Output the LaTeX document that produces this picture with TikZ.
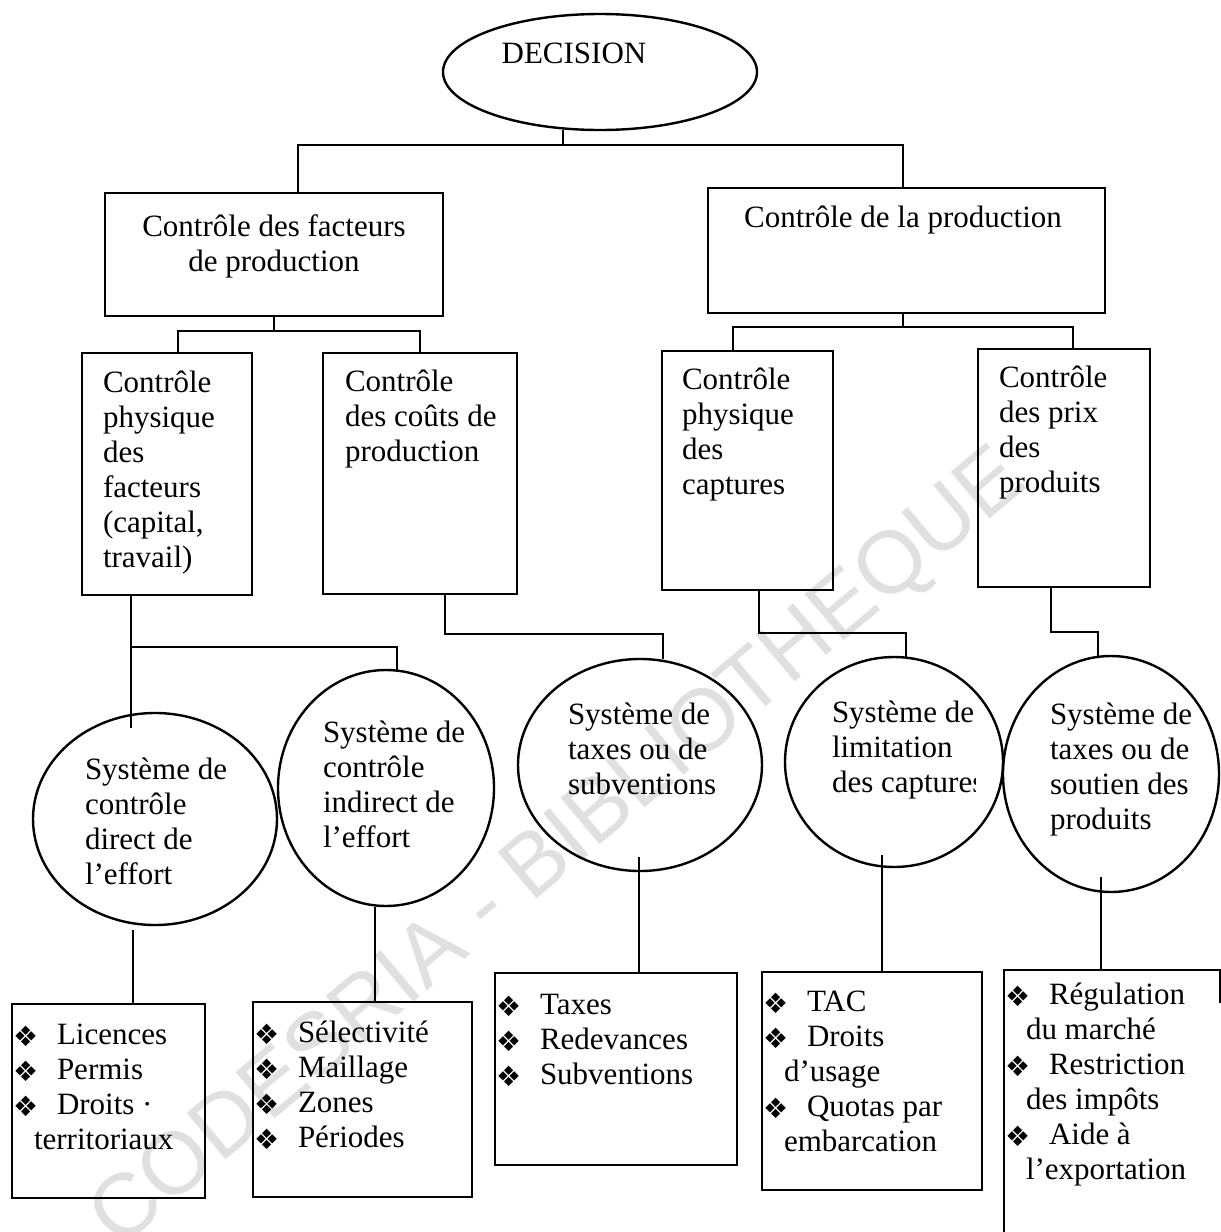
\documentclass[tikz,border=0pt]{standalone}
\usepackage{fontspec}
\setmainfont{Liberation Serif}
\newfontfamily\wmfont{Liberation Sans}
\newfontfamily\symfont{DejaVu Sans}
\usetikzlibrary{shapes.geometric}
\newcommand\tl[1]{\begin{tabular}[t]{@{}l@{}}#1\end{tabular}}
\newcommand\tc[1]{\begin{tabular}[t]{@{}c@{}}#1\end{tabular}}
\newcommand\bul{\makebox[22pt][l]{\raisebox{-1pt}{\symfont\fontsize{14}{14}\selectfont ❖}}}
\newcommand\cnt{\hspace*{10.5pt}}
\begin{document}
\begin{tikzpicture}[x=0.5pt,y=-0.5pt,line width=1.2pt,
  rbox/.style 2 args={draw,rectangle,inner sep=0pt,outer sep=0pt,minimum width=#1*0.5pt,minimum height=#2*0.5pt,anchor=north west},
  oval/.style 2 args={draw,ellipse,inner sep=0pt,outer sep=0pt,minimum width=#1*1pt,minimum height=#2*1pt},
  txt/.style={inner sep=0pt,outer sep=0pt,anchor=base west,font=\fontsize{15.5}{17.5}\selectfont},
  ctxt/.style={txt,anchor=base},
  wire/.style={line width=1.2pt}]
\fill[white] (0,0) rectangle (1221,1232);
\useasboundingbox (0,0) rectangle (1221,1232);
% watermark
\node[rotate=40,text=black!12,font=\wmfont\fontsize{44}{44}\selectfont,inner sep=0pt] (wm) at (560,850) {CODESRIA - BIBLIOTHEQUE};
% top
\node[oval={157}{58}] (dec) at (600,72) {};
\node[ctxt] (tdec) at (574,63) {DECISION};
\node[rbox={338}{123}] (b1) at (105,193) {};
\node[rbox={397}{125}] (b2) at (708,188) {};
\node[ctxt] (t1) at (274,236) {\tc{Contrôle des facteurs\\de production}};
\node[ctxt] (t2) at (903,227) {Contrôle de la production};
% level 2 boxes
\node[rbox={170}{242}] (b3) at (82,353) {};
\node[rbox={194}{241}] (b4) at (323,353) {};
\node[rbox={171}{239}] (b5) at (662,351) {};
\node[rbox={172}{238}] (b6) at (978,349) {};
\node[txt] (t3) at (103,392) {\tl{Contrôle\\physique\\des\\facteurs\\(capital,\\travail)}};
\node[txt] (t4) at (345,391) {\tl{Contrôle\\des coûts de\\production}};
\node[txt] (t5) at (682,389) {\tl{Contrôle\\physique\\des\\captures}};
\node[txt] (t6) at (999,387) {\tl{Contrôle\\des prix\\des\\produits}};
% circles
\node[oval={122}{106}] (c1) at (155,819) {};
\node[oval={108}{118}] (c2) at (386,788) {};
\node[oval={122}{106}] (c3) at (640,765) {};
\node[oval={109}{105}] (c4) at (894,762) {};
\node[oval={108}{118}] (c5) at (1111,774) {};
\node[txt] (tc1) at (85,779) {\tl{Système de\\contrôle\\direct de\\l’effort}};
\node[txt] (tc2) at (323,742) {\tl{Système de\\contrôle\\indirect de\\l’effort}};
\node[txt] (tc3) at (568,724) {\tl{Système de\\taxes ou de\\subventions}};
\begin{scope}
\clip (780,640) rectangle (975,880);
\node[txt] (tc4) at (832,722) {\tl{Système de\\limitation\\des captures}};
\end{scope}
\node[txt] (tc5) at (1050,724) {\tl{Système de\\taxes ou de\\soutien des\\produits}};
% bottom boxes
\node[rbox={193}{194}] (L1) at (12,1004) {};
\node[rbox={219}{195}] (L2) at (253,1002) {};
\node[rbox={242}{192}] (L3) at (495,973) {};
\node[rbox={220}{218}] (L4) at (762,972) {};
\node[rbox={216}{262},draw=none] (L5) at (1004,970) {};
\draw (L5.south west) -- (L5.north west) -- (L5.north east) -- ++(0,33);
\node[txt] (tL1) at (13,1044) {\tl{\bul Licences\\\bul Permis\\\bul Droits ·\\\cnt territoriaux}};
\node[txt] (tL2) at (254,1042) {\tl{\bul Sélectivité\\\bul Maillage\\\bul Zones\\\bul Périodes}};
\node[txt] (tL3) at (496,1014) {\tl{\bul Taxes\\\bul Redevances\\\bul Subventions}};
\node[txt] (tL4) at (763,1011) {\tl{\bul TAC\\\bul Droits\\\cnt d’usage\\\bul Quotas par\\\cnt embarcation}};
\node[txt] (tL5) at (1005,1004) {\tl{\bul Régulation\\\cnt du marché\\\bul Restriction\\\cnt des impôts\\\bul Aide à\\\cnt l’exportation}};
% junction coordinates
\coordinate (j0) at (563,145);
\coordinate (j0l) at (298,145);
\coordinate (j0r) at (903,145);
\coordinate (j1) at (274,331);
\coordinate (j1l) at (178,331);
\coordinate (j1r) at (420,331);
\coordinate (j2) at (903,327);
\coordinate (j2l) at (733,327);
\coordinate (j2r) at (1073,327);
\coordinate (j3) at (131,647);
\coordinate (j3r) at (397,647);
\coordinate (e3) at (131,728);
\coordinate (j4) at (445,634);
\coordinate (j4r) at (663,634);
\coordinate (j5) at (759,633);
\coordinate (j5r) at (906,633);
\coordinate (j6) at (1051,632);
\coordinate (j6r) at (1098,632);
\coordinate (s1) at (133,930);
\coordinate (s2) at (375,907);
\coordinate (s3) at (639,857);
\coordinate (s4) at (882,855);
\coordinate (s5) at (1101,877);
% connectors
\draw[wire] (j0 |- dec.south) -- (j0);
\draw[wire] (j0l |- b1.north) -- (j0l) -- (j0r) -- (j0r |- b2.north);
\draw[wire] (j1 |- b1.south) -- (j1);
\draw[wire] (j1l |- b3.north) -- (j1l) -- (j1r) -- (j1r |- b4.north);
\draw[wire] (j2 |- b2.south) -- (j2);
\draw[wire] (j2l |- b5.north) -- (j2l) -- (j2r) -- (j2r |- b6.north);
\draw[wire] (j3 |- b3.south) -- (e3);
\draw[wire] (j3) -- (j3r) -- (j3r |- c2.north);
\draw[wire] (j4 |- b4.south) -- (j4) -- (j4r) -- (j4r |- c3.north);
\draw[wire] (j5 |- b5.south) -- (j5) -- (j5r) -- (j5r |- c4.north);
\draw[wire] (j6 |- b6.south) -- (j6) -- (j6r) -- (j6r |- c5.north);
\draw[wire] (s1) -- (s1 |- L1.north);
\draw[wire] (s2) -- (s2 |- L2.north);
\draw[wire] (s3) -- (s3 |- L3.north);
\draw[wire] (s4) -- (s4 |- L4.north);
\draw[wire] (s5) -- (s5 |- L5.north);
\end{tikzpicture}
\end{document}
